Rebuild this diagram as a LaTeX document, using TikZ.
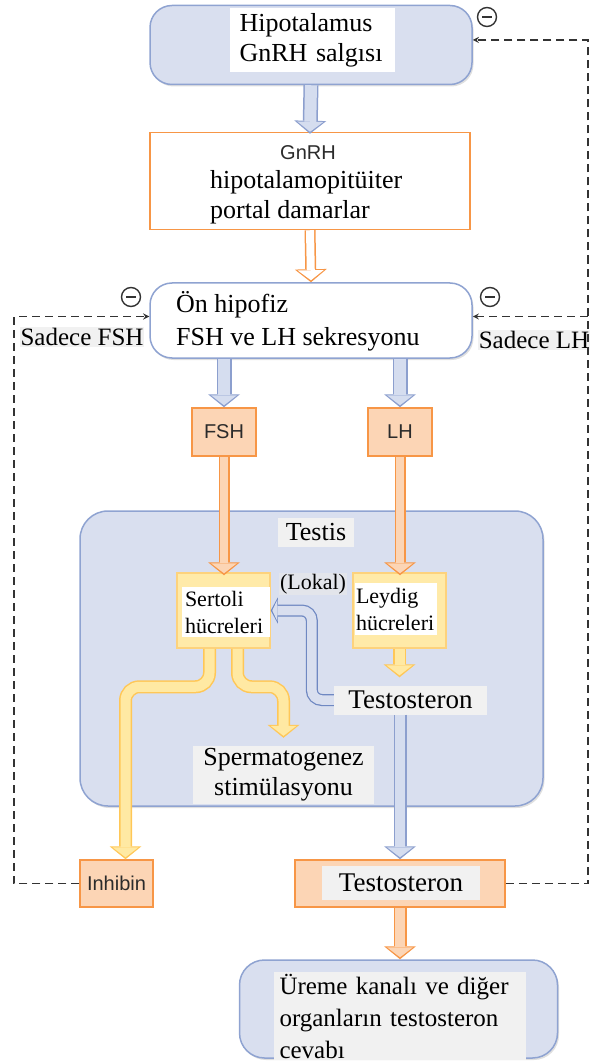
\documentclass[tikz,border=0pt]{standalone}
\usepackage{fontspec}
\setmainfont{Liberation Serif}
\setsansfont{Liberation Sans}
\usetikzlibrary{arrows.meta,shadows}

\definecolor{boxblue}{HTML}{D9DFEF}
\definecolor{lineblue}{HTML}{8FA3D1}
\definecolor{arrblue}{HTML}{8C9FCE}
\definecolor{arrbluefill}{HTML}{D5DDEF}
\definecolor{lokalblue}{HTML}{6F88C2}
\definecolor{peach}{HTML}{FCD5B5}
\definecolor{orangedark}{HTML}{F79646}
\definecolor{yellowbox}{HTML}{FFEAA8}
\definecolor{yellowline}{HTML}{FDD27C}
\definecolor{yellowarr}{HTML}{FFE9A3}
\definecolor{yellowdark}{HTML}{FFC757}
\definecolor{patchgray}{HTML}{F1F1F1}
\definecolor{lokalgray}{HTML}{E3E5EB}
\definecolor{dashgray}{HTML}{333333}
\definecolor{textgray}{HTML}{2B2B2B}

\newcommand{\bigfont}{\fontsize{26}{30}\selectfont}
\newcommand{\midfont}{\fontsize{22}{27}\selectfont}
\newcommand{\labfont}{\sffamily\fontsize{20}{24}\selectfont\color{textgray}}

% hollow block arrow: border colour, fill colour, outer and inner shaft width, path
\newcommand{\hollowarrow}[6][0pt]{%
	\draw[draw=#2, line width=#4, shorten >=#1,
		-{Triangle[width=32pt, length=13pt, line width=0pt]}] #6;
	\draw[draw=#3, line width=#5, shorten >=#1+2pt,
		-{Triangle[width=26pt, length=10pt, line width=0pt]}] #6;
}

\tikzset{
	basic/.style  = {draw, rectangle, line width=1.5pt, inner sep=0pt},
	rbox/.style   = {basic, rounded corners=22pt, draw=lineblue, fill=boxblue,
		drop shadow={shadow xshift=1.5pt, shadow yshift=-2pt, opacity=0.25}},
	obox/.style   = {basic, draw=orangedark, fill=peach},
	ybox/.style   = {basic, draw=yellowline, fill=yellowbox},
	patch/.style  = {inner sep=0pt, align=left},
	minus/.style  = {circle, draw=black!80, fill=white, line width=1.4pt,
		minimum size=19pt, inner sep=0pt},
	fb/.style     = {dash pattern=on 8pt off 5pt, line width=1.7pt, draw=dashgray, ->}
}

\begin{document}
\begin{tikzpicture}[x=1pt, y=-1pt, >=stealth, font=\bigfont]
\useasboundingbox (0,0) rectangle (589,1064);

% testis panel behind everything
\node[rbox, rounded corners=28pt, minimum width=463pt, minimum height=295pt] (testis) at (311.5,658.5) {};
\node[patch, fill=patchgray, inner xsep=8pt, minimum height=29pt] (testis-t) at (316,532) {Testis};

% hypothalamus and pituitary
\node[rbox, minimum width=322pt, minimum height=79pt] (hyp) at (311,45) {};
\node[patch, fill=white, text width=145pt, inner xsep=10pt, minimum height=64pt] (hyp-t) at (312,40) {Hipotalamus\\GnRH salgısı};

\node[obox, fill=white, minimum width=320pt, minimum height=97pt] (gnrh) at (310,181) {};
\node[font=\labfont, inner sep=0pt] (gnrh-h) at (308,153) {GnRH};
\node[patch, anchor=west] (gnrh-t) at (210,197) {hipotalamopitüiter\\portal damarlar};

\node[rbox, fill=white, minimum width=322pt, minimum height=75pt] (onh) at (311,320.5) {};
\node[patch, anchor=west, font=\fontsize{26}{33}\selectfont] (onh-t) at (176,321) {Ön hipofiz\\FSH ve LH sekresyonu};

% inhibition marks
\foreach \m/\pos in {m1/{(487,17)}, m2/{(131,297)}, m3/{(490,297)}} {
	\node[minus] (\m) at \pos {};
	\fill[black!80] ([xshift=-5pt,yshift=-1.4pt]\m.center) rectangle ([xshift=5pt,yshift=1.4pt]\m.center);
}
\node[patch, fill=patchgray, inner sep=1pt, font=\fontsize{25}{28}\selectfont] (sfsh) at (82,337) {Sadece FSH};
\node[patch, fill=patchgray, inner sep=1pt, font=\fontsize{25}{28}\selectfont] (slh) at (534,340) {Sadece LH};

% hormones
\node[obox, minimum width=64pt, minimum height=48pt, font=\labfont] (fsh) at (224,432) {FSH};
\node[obox, minimum width=64pt, minimum height=48pt, font=\labfont] (lh) at (400,432) {LH};

% cells in the testis
\node[ybox, minimum width=93pt, minimum height=75pt] (sert) at (223.5,610.5) {};
\node[patch, fill=white, font=\midfont, text width=82pt, inner xsep=3pt, minimum height=50pt] (sert-t) at (226,612) {Sertoli\\hücreleri};
\node[ybox, minimum width=93pt, minimum height=75pt] (leyd) at (399.5,610.5) {};
\node[patch, fill=white, font=\midfont, text width=80pt, inner xsep=1pt, minimum height=52pt] (leyd-t) at (396,609) {Leydig\\hücreleri};
\node[font=\midfont, inner sep=1pt, fill=lokalgray] (lokal) at (313,584) {(Lokal)};
\node[patch, fill=patchgray, minimum width=153pt, minimum height=29pt, font=\fontsize{27}{30}\selectfont] (testo1) at (410.5,700) {Testosteron};
\node[patch, fill=patchgray, align=center, minimum width=181pt, minimum height=58pt] (sperm) at (283.5,775) {Spermatogenez\\stimülasyonu};

% targets
\node[obox, minimum width=73pt, minimum height=47pt, font=\labfont] (inh) at (116.5,883.5) {Inhibin};
\node[obox, minimum width=210pt, minimum height=47pt] (testo2) at (400,883.5) {};
\node[patch, fill=patchgray, minimum width=158pt, minimum height=34pt, font=\fontsize{27}{30}\selectfont] (testo2-t) at (401,883) {Testosteron};
\node[rbox, rounded corners=25pt, minimum width=318pt, minimum height=98pt] (ureme) at (398.5,1009) {};
\node[patch, fill=patchgray, text width=240pt, inner xsep=6pt, minimum height=88pt, font=\fontsize{25}{32}\selectfont] (ureme-t) at (399.5,1016) {Üreme kanalı ve diğer\\organların testosteron\\cevabı};

% block arrows
\hollowarrow{arrblue}{arrbluefill}{15pt}{12pt}{(hyp.south) -- ([yshift=-2pt]gnrh.north)}
\hollowarrow{orangedark}{white}{11pt}{8pt}{(gnrh.south) -- (onh.north)}
\hollowarrow{arrblue}{arrbluefill}{15pt}{12pt}{(onh.south -| fsh.north) -- (fsh.north)}
\hollowarrow{arrblue}{arrbluefill}{15pt}{12pt}{(onh.south -| lh.north) -- (lh.north)}
\hollowarrow[-3pt]{orangedark}{peach}{11pt}{8pt}{(fsh.south) -- (fsh.south |- sert.north)}
\hollowarrow[-3pt]{orangedark}{peach}{11pt}{8pt}{(lh.south) -- (lh.south |- leyd.north)}
\hollowarrow[8pt]{yellowdark}{yellowarr}{13pt}{10pt}{(leyd.south) -- (leyd.south |- testo1.north)}
\hollowarrow{yellowdark}{yellowarr}{13pt}{10pt}{([xshift=-14pt]sert.south) [rounded corners=14pt] -- ++(0,38) -| ([xshift=9pt]inh.north)}
\hollowarrow[8pt]{yellowdark}{yellowarr}{13pt}{10pt}{([xshift=14pt]sert.south) [rounded corners=14pt] -- ++(0,38) -| (sperm.north)}
\hollowarrow{arrblue}{arrbluefill}{13pt}{10pt}{(testo2.north |- testo1.south) -- (testo2.north)}
\hollowarrow{orangedark}{peach}{13pt}{10pt}{(testo2.south) -- (testo2.south |- ureme.north)}

% local testosterone back to Sertoli
\draw[draw=lokalblue, line width=12pt, rounded corners=10pt,
	-{Triangle[width=26pt, length=7pt, line width=0pt]}] (testo1.west) -- ++(-22,0) |- (sert.east);
\draw[draw=boxblue, line width=9.5pt, rounded corners=10pt, shorten >=1.5pt,
	-{Triangle[width=21pt, length=5pt, line width=0pt]}] (testo1.west) -- ++(-22,0) |- (sert.east);

% negative feedback
\coordinate (onh-l) at ([yshift=4pt]onh.west);
\coordinate (onh-r) at ([yshift=4pt]onh.east);
\draw[fb] (inh.west) -- ++(-65,0) |- (onh-l);
\draw[fb] (testo2.east) -- ++(82,0) coordinate (fbr) |- ([yshift=5pt]hyp.east);
\draw[fb] (fbr |- onh-r) -- (onh-r);

\end{tikzpicture}
\end{document}
